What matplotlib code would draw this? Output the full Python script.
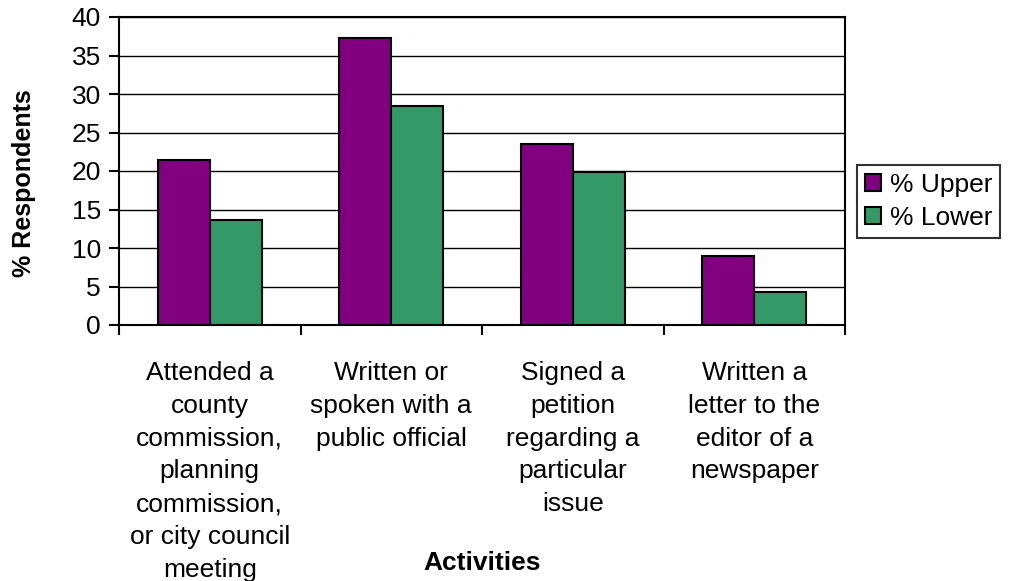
import matplotlib
matplotlib.use("Agg")
import matplotlib.pyplot as plt
import numpy as np

categories = [
    "Attended a\ncounty\ncommission,\nplanning\ncommission,\nor city council\nmeeting",
    "Written or\nspoken with a\npublic official",
    "Signed a\npetition\nregarding a\nparticular\nissue",
    "Written a\nletter to the\neditor of a\nnewspaper",
]
upper = [21.4, 37.3, 23.5, 9.0]
lower = [13.6, 28.4, 19.9, 4.3]
series_names = ["% Upper", "% Lower"]
yticks = [0, 5, 10, 15, 20, 25, 30, 35, 40]

plt.rcParams['font.family'] = ['Liberation Sans', 'DejaVu Sans']
FS = 19

fig = plt.figure(figsize=(10.13, 5.81), dpi=100)
ax = fig.add_axes([119/1013, 1-325/581, (845-119)/1013, (325-17)/581])

x = np.arange(len(categories))
w = 0.287
ax.bar(x - w/2, upper, w, color="#800080", edgecolor="black", linewidth=1.5,
       label=series_names[0], zorder=3)
ax.bar(x + w/2, lower, w, color="#339966", edgecolor="black", linewidth=1.5,
       label=series_names[1], zorder=3)

ax.set_xlim(-0.5, len(categories) - 0.5)
ax.set_ylim(0, 40)
ax.set_yticks(yticks)
ax.set_yticklabels([str(t) for t in yticks], fontsize=FS)
ax.yaxis.grid(True, color="black", linewidth=1.0, zorder=0)
ax.set_axisbelow(True)

ax.set_xticks(np.arange(-0.5, len(categories), 1.0))
ax.set_xticklabels([])
ax.set_xticks(x, minor=True)
ax.set_xticklabels(categories, minor=True, fontsize=FS, linespacing=1.46,
                   va="top", ha="center")
ax.tick_params(axis="x", which="major", length=7, width=1.5, direction="out")
ax.tick_params(axis="x", which="minor", length=0, pad=26)
ax.tick_params(axis="y", length=7, width=1.5, direction="out", pad=6)

for s in ax.spines.values():
    s.set_linewidth(1.5)
    s.set_color("black")

fig.text(24/1013, 1-183/581, "% Respondents", fontsize=18, fontweight="bold",
         rotation=90, ha="center", va="center")
fig.text((119+845)/2/1013, 1-563/581, "Activities", fontsize=FS,
         fontweight="bold", ha="center", va="center")

leg = fig.legend(loc="upper left", bbox_to_anchor=(857/1013, 1-165/581),
                 fontsize=FS, frameon=True, fancybox=False, handlelength=0.6,
                 handleheight=0.6, handletextpad=0.35, borderpad=0.3,
                 labelspacing=0.35, borderaxespad=0)
leg.get_frame().set_edgecolor("black")
leg.get_frame().set_linewidth(1.5)

fig.savefig("out.png", dpi=100)
